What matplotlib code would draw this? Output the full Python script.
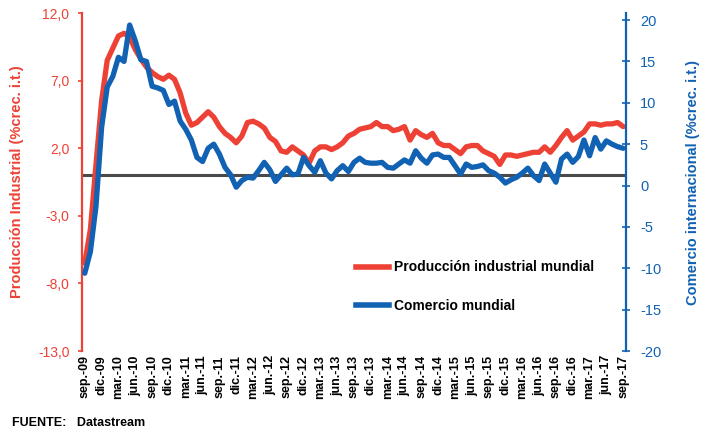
import matplotlib
matplotlib.use("Agg")
import matplotlib.pyplot as plt
from matplotlib.lines import Line2D

plt.rcParams['font.family'] = ['Liberation Sans', 'DejaVu Sans']

# Monthly data, sep-09 .. sep-17
produccion = [-6.5, -4.0, 0.8, 5.5, 8.5, 9.4, 10.3, 10.5, 10.2, 9.3,
              8.6, 8.0, 7.6, 7.3, 7.1, 7.4, 7.1, 6.1, 4.6, 3.7,
              3.9, 4.3, 4.7, 4.3, 3.6, 3.1, 2.8, 2.4, 2.9, 3.9,
              4.0, 3.8, 3.5, 2.8, 2.5, 1.8, 1.7, 2.1, 1.8, 1.5,
              0.9, 1.8, 2.1, 2.1, 1.9, 2.1, 2.4, 2.9, 3.1, 3.4,
              3.5, 3.6, 3.9, 3.6, 3.6, 3.3, 3.4, 3.6, 2.6, 3.3,
              3.0, 2.8, 3.1, 2.4, 2.2, 2.2, 1.9, 1.6, 2.1, 2.2,
              2.2, 1.8, 1.6, 1.4, 0.8, 1.5, 1.5, 1.4, 1.5, 1.6,
              1.7, 1.7, 2.1, 1.7, 2.2, 2.8, 3.3, 2.6, 2.9, 3.2,
              3.8, 3.8, 3.7, 3.8, 3.8, 3.9, 3.6]

comercio = [-10.6, -8.0, -2.5, 7.0, 11.9, 13.2, 15.5, 15.0, 19.4, 17.5,
            15.2, 15.0, 12.0, 11.8, 11.5, 9.8, 10.2, 7.8, 6.8, 5.5,
            3.4, 2.9, 4.5, 5.0, 3.8, 2.2, 1.3, -0.2, 0.6, 1.0,
            0.9, 1.8, 2.8, 1.9, 0.5, 1.3, 2.1, 1.3, 1.4, 3.4,
            2.4, 1.6, 3.0, 1.5, 0.8, 1.8, 2.4, 1.7, 2.8, 3.3,
            2.8, 2.7, 2.7, 2.8, 2.2, 2.1, 2.6, 3.1, 2.7, 4.2,
            3.3, 2.7, 3.7, 3.8, 3.4, 3.4, 2.4, 1.4, 2.6, 2.2,
            2.3, 2.5, 1.8, 1.5, 1.0, 0.3, 0.7, 1.0, 1.5, 2.1,
            1.2, 0.6, 2.6, 1.5, 0.4, 3.2, 3.8, 2.8, 3.5, 5.5,
            3.6, 5.8, 4.4, 5.4, 5.0, 4.7, 4.5]

tick_labels = ['sep.-09', 'dic.-09', 'mar.-10', 'jun.-10', 'sep.-10', 'dic.-10',
               'mar.-11', 'jun.-11', 'sep.-11', 'dic.-11', 'mar.-12', 'jun.-12',
               'sep.-12', 'dic.-12', 'mar.-13', 'jun.-13', 'sep.-13', 'dic.-13',
               'mar.-14', 'jun.-14', 'sep.-14', 'dic.-14', 'mar.-15', 'jun.-15',
               'sep.-15', 'dic.-15', 'mar.-16', 'jun.-16', 'sep.-16', 'dic.-16',
               'mar.-17', 'jun.-17', 'sep.-17']
left_ticks = [-13, -8, -3, 2, 7, 12]
right_ticks = [-20, -15, -10, -5, 0, 5, 10, 15, 20]

RED = '#ee4135'
BLUE = '#1262b3'

x = list(range(len(produccion)))
tick_pos = list(range(0, len(produccion), 3))

fig = plt.figure(figsize=(7.06, 4.34), dpi=100)
ax = fig.add_axes([0.1161, 0.1912, 0.7706, 0.7788])
ax2 = ax.twinx()

ax.set_xlim(-0.5, len(produccion) - 0.5)
ax.set_ylim(-13, 12)
ax2.set_ylim(-20, 20.85)

ax.axhline(0, color='#4a4a4a', lw=2.2, zorder=1)

l1, = ax.plot(x, produccion, color=RED, lw=3.8, solid_joinstyle='round',
              solid_capstyle='round', zorder=3)
l2, = ax2.plot(x, comercio, color=BLUE, lw=3.8, solid_joinstyle='round',
               solid_capstyle='round', zorder=4)

for a in (ax, ax2):
    a.spines['top'].set_visible(False)
    a.spines['bottom'].set_visible(False)
ax.spines['right'].set_visible(False)
ax2.spines['left'].set_visible(False)
ax.spines['left'].set_color(RED)
ax.spines['left'].set_linewidth(1.6)
ax2.spines['right'].set_color(BLUE)
ax2.spines['right'].set_linewidth(1.6)

ax.set_yticks(left_ticks)
ax.set_yticklabels([f"{v:.1f}".replace('.', ',') for v in left_ticks])
ax.tick_params(axis='y', colors=RED, labelcolor=RED, labelsize=10,
               length=3, width=1.2, direction='out', pad=6)
ax2.set_yticks(right_ticks)
ax2.set_yticklabels([str(v) for v in right_ticks])
ax2.tick_params(axis='y', colors=BLUE, labelcolor=BLUE, labelsize=10.5,
                length=6, width=1.2, direction='inout', pad=7)

ax.set_xticks(tick_pos)
ax.set_xticklabels(tick_labels, rotation=90, fontsize=9, fontweight='bold')
ax.tick_params(axis='x', length=0, pad=3)

ax.set_ylabel('Producción Industrial (%crec. i.t.)', color=RED,
              fontsize=10.5, fontweight='bold', labelpad=10)
ax2.set_ylabel('Comercio internacional (%crec. i.t.)', color=BLUE,
               fontsize=10.5, fontweight='bold', labelpad=18)

ax.patch.set_visible(False)
ax2.set_zorder(ax.get_zorder() + 1)
ax2.patch.set_visible(False)

handles = [Line2D([], [], color=RED, lw=4), Line2D([], [], color=BLUE, lw=4)]
leg = ax2.legend(handles, ['Producción industrial mundial', 'Comercio mundial'],
                 loc='upper left', bbox_to_anchor=(0.48, 0.305),
                 frameon=False, handlelength=2.4, handletextpad=0.35,
                 labelspacing=1.75, prop={'weight': 'bold', 'size': 10})

fig.text(0.017, 0.018, 'FUENTE:   Datastream', fontsize=9, fontweight='bold')

fig.savefig('out.png', dpi=100)
